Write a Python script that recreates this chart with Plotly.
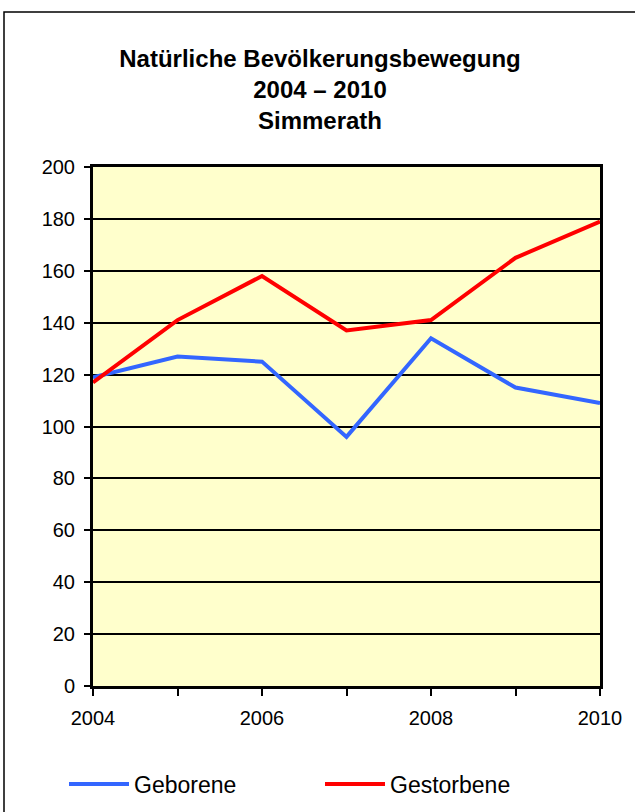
import plotly.graph_objects as go

# ── Data ────────────────────────────────────────────────────────
years = [2004, 2005, 2006, 2007, 2008, 2009, 2010]
geborene = [119, 127, 125, 96, 134, 115, 109]
gestorbene = [117, 141, 158, 137, 141, 165, 179]

x_labels = [2004, 2006, 2008, 2010]
y_ticks = [0, 20, 40, 60, 80, 100, 120, 140, 160, 180, 200]

FONT = "Liberation Sans, Arial, sans-serif"

# plot area in pixels: x 93..600, y 167..686
PW, PH = 507, 519

fig = go.Figure()
fig.add_trace(go.Scatter(x=years, y=geborene, mode="lines", name="Geborene",
                         line=dict(color="#3366FF", width=4), legend="legend"))
fig.add_trace(go.Scatter(x=years, y=gestorbene, mode="lines", name="Gestorbene",
                         line=dict(color="#FF0000", width=4), legend="legend2"))

legend_common = dict(
    orientation="h", xanchor="left", yanchor="middle",
    font=dict(family=FONT, size=23), itemwidth=60,
    bgcolor="rgba(0,0,0,0)", borderwidth=0,
)

fig.update_layout(
    width=635, height=812,
    margin=dict(l=93, r=35, t=167, b=126, autoexpand=False),
    paper_bgcolor="white",
    plot_bgcolor="#FFFFCC",
    font=dict(family=FONT, size=20, color="black"),
    title=dict(
        text="<b>Natürliche Bevölkerungsbewegung<br>2004 – 2010<br>Simmerath</b>",
        x=320 / 635, xanchor="center", xref="container",
        y=1 - 67 / 812, yanchor="top", yref="container",
        font=dict(family=FONT, size=24, color="black"),
    ),
    showlegend=True,
    legend=dict(legend_common, x=(64 - 93) / PW, y=(686 - 784) / PH),
    legend2=dict(legend_common, x=(320 - 93) / PW, y=(686 - 784) / PH),
    shapes=[dict(type="rect", xref="paper", yref="paper",
                 x0=(4 - 93) / PW, x1=1.1, y0=-0.3, y1=(686 - 12) / PH,
                 line=dict(color="black", width=1.5), layer="below")],
)

fig.update_xaxes(
    range=[2004, 2010], tickvals=x_labels, ticks="outside", ticklen=7,
    tickwidth=2, tickcolor="black", showgrid=False, zeroline=False,
    showline=True, linecolor="black", linewidth=3, mirror=True,
    minor=dict(dtick=1, tick0=2004, ticks="outside", ticklen=7,
               tickwidth=2, tickcolor="black", showgrid=False),
    tickfont=dict(family=FONT, size=20), ticklabelstandoff=5,
)
fig.update_yaxes(
    range=[0, 200], tickvals=y_ticks, ticks="outside", ticklen=6,
    tickwidth=2, tickcolor="black", showgrid=True, gridcolor="black",
    gridwidth=2, zeroline=False, showline=True, linecolor="black",
    linewidth=3, mirror=True, tickfont=dict(family=FONT, size=20),
    ticklabelstandoff=5,
)

fig.write_html("out.html", config={"displayModeBar": False},
               post_script="document.body.style.margin='0';")
